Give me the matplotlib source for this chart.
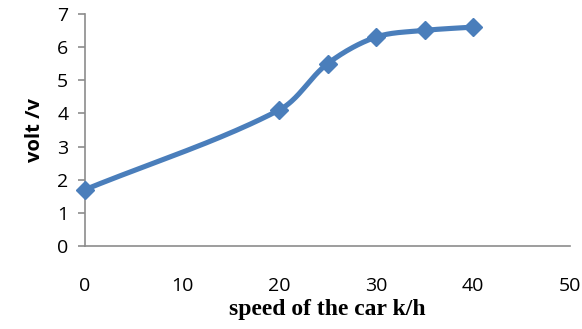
import numpy as np
import matplotlib
matplotlib.use("Agg")
from matplotlib import pyplot as plt

# speed (k/h) vs voltage (v)
speed = [0, 20, 25, 30, 35, 40]
volt = [1.7, 4.1, 5.5, 6.3, 6.5, 6.6]
xticks = [0, 10, 20, 30, 40, 50]
yticks = [0, 1, 2, 3, 4, 5, 6, 7]


def smooth_curve(x, y, sx=1.0, sy=1.0, n=40):
    # smoothed line like excel: cubic bezier through the points,
    # tangents from neighbours, scaled by segment lengths (in screen units)
    P = np.column_stack([np.asarray(x, float) * sx, np.asarray(y, float) * sy])
    m = len(P)
    t = np.linspace(0, 1, n)[:, None]
    out = []
    for i in range(m - 1):
        p0, p3 = P[i], P[i + 1]
        d = np.linalg.norm(p3 - p0)
        prev = P[i - 1] if i > 0 else p0
        nxt = P[i + 2] if i + 2 < m else p3
        d_prev = np.linalg.norm(p0 - prev)
        d_next = np.linalg.norm(nxt - p3)
        c1 = p0 + (p3 - prev) * d / (d_prev + d) / 3
        c2 = p3 - (nxt - p0) * d / (d + d_next) / 3
        b = (1 - t) ** 3 * p0 + 3 * (1 - t) ** 2 * t * c1 + 3 * (1 - t) * t ** 2 * c2 + t ** 3 * p3
        out.append(b)
    out = np.vstack(out)
    return out[:, 0] / sx, out[:, 1] / sy


fig = plt.figure(figsize=(5.82, 3.29), dpi=100)
ax = fig.add_axes([0.146, 0.252, 0.834, 0.706])

blue = '#4a7ebb'
# pixels per data unit, so the smoothing follows what is seen
px_x = 0.834 * 582 / 50
px_y = 0.706 * 329 / 7
cx, cy = smooth_curve(speed, volt, px_x, px_y)
ax.plot(cx, cy, color=blue, lw=3.7, solid_capstyle='round', zorder=3)
ax.plot(speed, volt, linestyle='none', marker='D', ms=9, color=blue, zorder=4, clip_on=False)

ax.set_xlim(0, 50)
ax.set_ylim(0, 7)
ax.set_xticks(xticks)
ax.set_yticks(yticks)

for s in ['top', 'right']:
    ax.spines[s].set_visible(False)
for s in ['left', 'bottom']:
    ax.spines[s].set_color('#8c8c8c')
    ax.spines[s].set_linewidth(1.2)

ax.tick_params(axis='y', length=5, width=1.2, color='#8c8c8c', pad=7)
ax.tick_params(axis='x', length=0, pad=22)
for lab in ax.get_xticklabels() + ax.get_yticklabels():
    lab.set_fontfamily('Open Sans')
    lab.set_fontsize(14)

ax.set_xlabel('speed of the car k/h', fontfamily='Liberation Serif', fontweight='bold',
              fontsize=17, labelpad=3)
ax.set_ylabel('volt /v', fontfamily='Open Sans', fontweight='bold', fontsize=14.5, labelpad=9)

fig.savefig('out.png', dpi=100)
